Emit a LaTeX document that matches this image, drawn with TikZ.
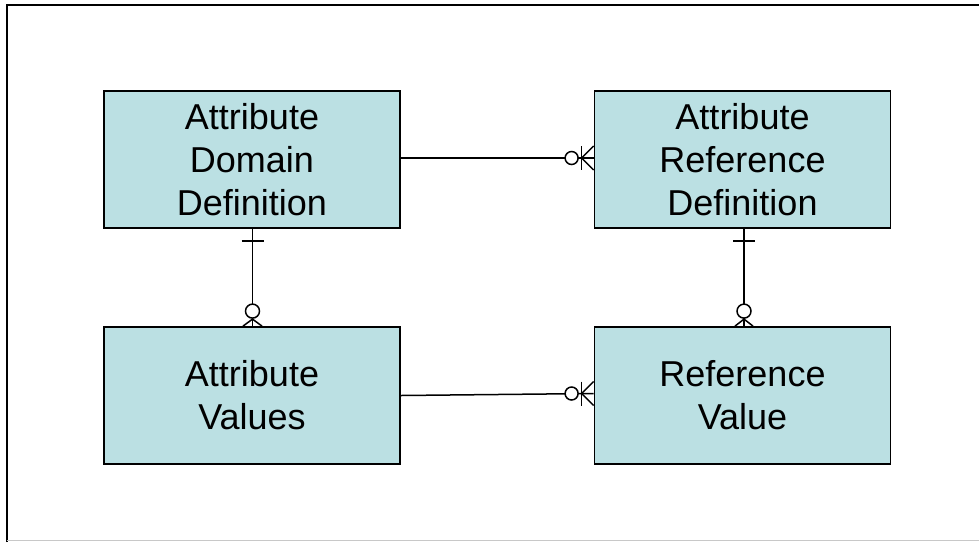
\documentclass[tikz,border=0pt]{standalone}
\usepackage{fontspec}
\setmainfont{Liberation Sans}
\usetikzlibrary{calc}
\definecolor{boxfill}{RGB}{187,224,227}
\definecolor{framegray}{RGB}{200,200,200}
\tikzset{
  entity/.style={draw=black, line width=1.8pt, fill=boxfill, minimum width=296pt, minimum height=137pt,
    align=center, inner sep=0pt, font=\fontsize{36}{43}\selectfont},
  rel/.style={line width=1.5pt, draw=black},
  hollow/.style={line width=1.5pt, draw=black, fill=white}
}
\begin{document}
\begin{tikzpicture}[x=1pt,y=-1pt]
\useasboundingbox (0,0) rectangle (979,542);
% frame
\draw[line width=2pt] (6.5,542) -- (6.5,4.5) -- (979,4.5);
\draw[framegray, line width=1.5pt] (6.5,540.5) -- (979,540.5);
% entities
\node[entity] (add) at (252,159.5) {Attribute\\Domain\\Definition};
\node[entity] (ard) at (742.5,159.5) {Attribute\\Reference\\Definition};
\node[entity] (av) at (252,395.5) {Attribute\\Values};
\node[entity] (rv) at (742.5,395.5) {Reference\\Value};
% ADD -- ARD
\draw[rel] ([yshift=1.5pt]add.east) -- ([yshift=1.5pt]ard.west);
\draw[rel] ([xshift=-12pt,yshift=1.5pt]ard.west) -- ([yshift=13.5pt]ard.west);
\draw[rel] ([xshift=-12pt,yshift=1.5pt]ard.west) -- ([yshift=-10.5pt]ard.west);
\draw[rel] ([xshift=-12pt,yshift=13.5pt]ard.west) -- ([xshift=-12pt,yshift=-10.5pt]ard.west);
\draw[hollow] ([xshift=-22pt,yshift=1.5pt]ard.west) circle[radius=6.5pt];
% AV -- RV
\draw[rel] (av.east) -- ([yshift=2pt]rv.west);
\draw[rel] ([xshift=-12pt,yshift=2pt]rv.west) -- ([yshift=14pt]rv.west);
\draw[rel] ([xshift=-12pt,yshift=2pt]rv.west) -- ([yshift=-10pt]rv.west);
\draw[rel] ([xshift=-12pt,yshift=14pt]rv.west) -- ([xshift=-12pt,yshift=-10pt]rv.west);
\draw[hollow] ([xshift=-22pt,yshift=2pt]rv.west) circle[radius=6.5pt];
% ADD -- AV
\draw[rel] ([xshift=0.5pt]add.south) -- ([xshift=0.5pt]av.north);
\draw[rel] ([xshift=-10.5pt,yshift=-12pt]add.south) -- ([xshift=11.5pt,yshift=-12pt]add.south);
\draw[rel] ([xshift=0.5pt,yshift=7pt]av.north) -- ([xshift=-9pt]av.north);
\draw[rel] ([xshift=0.5pt,yshift=7pt]av.north) -- ([xshift=10pt]av.north);
\draw[hollow] ([xshift=0.5pt,yshift=15pt]av.north) circle[radius=7pt];
% ARD -- RV
\draw[rel] ([xshift=1.5pt]ard.south) -- ([xshift=1.5pt]rv.north);
\draw[rel] ([xshift=-9.5pt,yshift=-12pt]ard.south) -- ([xshift=12.5pt,yshift=-12pt]ard.south);
\draw[rel] ([xshift=1.5pt,yshift=7pt]rv.north) -- ([xshift=-7.5pt]rv.north);
\draw[rel] ([xshift=1.5pt,yshift=7pt]rv.north) -- ([xshift=10.5pt]rv.north);
\draw[hollow] ([xshift=1.5pt,yshift=15pt]rv.north) circle[radius=7pt];
\end{tikzpicture}
\end{document}
